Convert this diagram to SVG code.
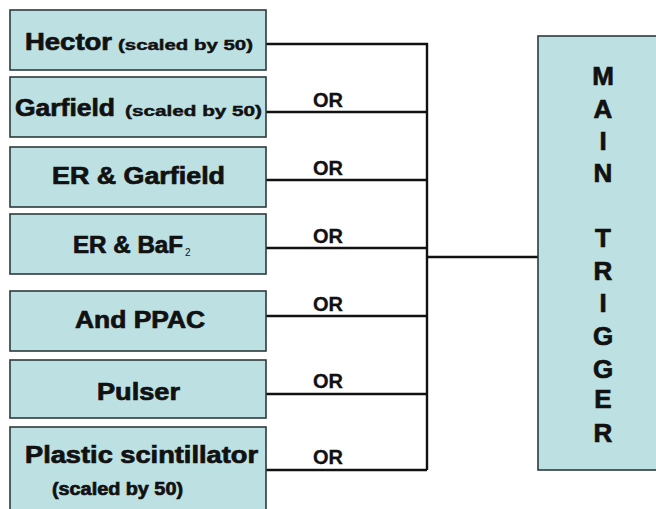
<svg xmlns="http://www.w3.org/2000/svg" width="656" height="509" viewBox="0 0 656 509">
<style>
.box{fill:#bde0e3;stroke:#2e3a3c;stroke-width:1.6}
.t{font-family:"Liberation Sans",Arial,sans-serif;font-weight:bold;fill:#111;stroke:#111;stroke-width:0.7}
.big{font-size:23px}
.sm{font-size:15px;stroke-width:0.45}
.or{font-family:"Liberation Sans",Arial,sans-serif;font-weight:bold;font-size:20px;fill:#111;stroke:#111;stroke-width:0.3}
.mt{font-family:"Liberation Sans",Arial,sans-serif;font-weight:bold;font-size:26px;fill:#111;stroke:#111;stroke-width:0.7;text-anchor:middle}
.wire{stroke:#111;stroke-width:2.4;fill:none}
</style>
<rect width="656" height="509" fill="#ffffff"/>
<g id="connectors">
<path class="wire" d="M266 44H427V470M266 112H427M266 180H427M266 248H427M266 316H427M266 394H427M266 470H427M427 257H538"/>
<text class="or" x="313" y="107">OR</text>
<text class="or" x="313" y="175">OR</text>
<text class="or" x="313" y="243">OR</text>
<text class="or" x="313" y="311">OR</text>
<text class="or" x="313" y="388">OR</text>
<text class="or" x="313" y="464">OR</text>
</g>
<g id="hector">
<rect class="box" x="10" y="10" width="256" height="60"/>
<text class="t big" x="25" y="50" textLength="87" lengthAdjust="spacingAndGlyphs">Hector</text>
<text class="t sm" x="118" y="50" textLength="135" lengthAdjust="spacingAndGlyphs">(scaled by 50)</text>
</g>
<g id="garfield">
<rect class="box" x="10" y="77" width="256" height="60"/>
<text class="t big" x="15" y="116" textLength="100" lengthAdjust="spacingAndGlyphs">Garfield</text>
<text class="t sm" x="125" y="116" textLength="137" lengthAdjust="spacingAndGlyphs">(scaled by 50)</text>
</g>
<g id="er-garfield">
<rect class="box" x="10" y="147" width="256" height="60"/>
<text class="t big" x="52" y="184" textLength="173" lengthAdjust="spacingAndGlyphs">ER &amp; Garfield</text>
</g>
<g id="er-baf2">
<rect class="box" x="10" y="214" width="256" height="60"/>
<text class="t big" x="73" y="253" textLength="110" lengthAdjust="spacingAndGlyphs">ER &amp; BaF</text>
<text x="185" y="256" font-family="Liberation Sans, Arial, sans-serif" font-size="10" fill="#111">2</text>
</g>
<g id="and-ppac">
<rect class="box" x="10" y="291" width="256" height="60"/>
<text class="t big" x="75" y="328" textLength="130" lengthAdjust="spacingAndGlyphs">And PPAC</text>
</g>
<g id="pulser">
<rect class="box" x="10" y="360" width="256" height="58"/>
<text class="t big" x="97" y="400" textLength="83" lengthAdjust="spacingAndGlyphs">Pulser</text>
</g>
<g id="plastic">
<rect class="box" x="10" y="427" width="256" height="86"/>
<text class="t big" x="25" y="463" textLength="233" lengthAdjust="spacingAndGlyphs">Plastic scintillator</text>
<text class="t" x="52" y="495" font-size="18" stroke-width="0.5" textLength="131" lengthAdjust="spacingAndGlyphs">(scaled by 50)</text>
</g>
<g id="main-trigger">
<rect class="box" x="538" y="36" width="125" height="434"/>
<text class="mt" x="603" y="85">M</text>
<text class="mt" x="603" y="118">A</text>
<text class="mt" x="603" y="150">I</text>
<text class="mt" x="603" y="182">N</text>
<text class="mt" x="603" y="247">T</text>
<text class="mt" x="603" y="280">R</text>
<text class="mt" x="603" y="312">I</text>
<text class="mt" x="603" y="345">G</text>
<text class="mt" x="603" y="378">G</text>
<text class="mt" x="603" y="408">E</text>
<text class="mt" x="603" y="442">R</text>
</g>
</svg>
